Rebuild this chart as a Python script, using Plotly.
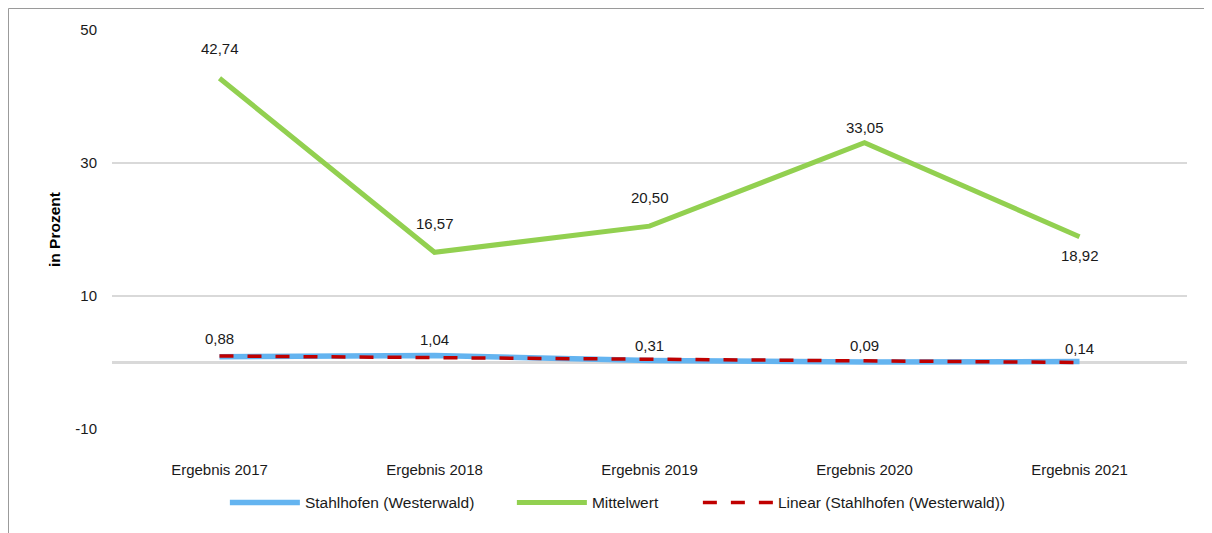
import numpy as np
import plotly.graph_objects as go

# Daten
kategorien = ["Ergebnis 2017", "Ergebnis 2018", "Ergebnis 2019", "Ergebnis 2020", "Ergebnis 2021"]
stahlhofen = [0.88, 1.04, 0.31, 0.09, 0.14]
mittelwert = [42.74, 16.57, 20.50, 33.05, 18.92]
y_ticks = [-10, 10, 30, 50]
y_ticktext = ["-10", "10", "30", "50"]

# lineare Trendlinie (wie Excel)
idx = np.arange(len(stahlhofen))
m, b = np.polyfit(idx, stahlhofen, 1)
trend = m * idx + b

schrift = "Liberation Sans, Arial, sans-serif"
blau = "#64b4f0"
gruen = "#92d050"
rot = "#c00000"

fig = go.Figure()
fig.add_trace(go.Scatter(x=kategorien, y=stahlhofen, mode="lines", name="Stahlhofen (Westerwald)",
                         line=dict(color=blau, width=5.5), legendwidth=202))
fig.add_trace(go.Scatter(x=kategorien, y=mittelwert, mode="lines", name="Mittelwert",
                         line=dict(color=gruen, width=5), legendwidth=101))
fig.add_trace(go.Scatter(x=kategorien, y=trend, mode="lines", name="Linear (Stahlhofen (Westerwald))",
                         line=dict(color=rot, width=3.5, dash="14px,14px")))

def fmt(v):
    return f"{v:.2f}".replace(".", ",")

# Datenbeschriftungen (Versatz in Pixel)
versatz_s = [18, 16, 15, 16, 13]
versatz_m = [30, 29, 29, 15, -19]
for k, v, d in zip(kategorien, stahlhofen, versatz_s):
    fig.add_annotation(x=k, y=v, text=fmt(v), showarrow=False, yshift=d,
                       font=dict(family=schrift, size=15, color="#1a1a1a"))
for k, v, d in zip(kategorien, mittelwert, versatz_m):
    fig.add_annotation(x=k, y=v, text=fmt(v), showarrow=False, yshift=d,
                       font=dict(family=schrift, size=15, color="#1a1a1a"))

fig.add_annotation(x=-0.0535, y=0.5, xref="paper", yref="paper", text="<b>in Prozent</b>",
                   xanchor="center", yanchor="middle",
                   textangle=-90, showarrow=False, font=dict(family=schrift, size=15.5, color="#000000"))

# Rahmen
fig.add_shape(type="rect", xref="paper", yref="paper", x0=-0.0963, x1=1.05, y0=-0.3, y1=1.0539,
              line=dict(color="#999999", width=1), layer="below")

fig.update_layout(
    width=1204, height=525,
    margin=dict(l=104, r=25, t=22, b=104),
    paper_bgcolor="white", plot_bgcolor="white",
    font=dict(family=schrift, size=15, color="#1a1a1a"),
    showlegend=True,
    legend=dict(orientation="h", x=0.105, xanchor="left", y=-0.185, yanchor="middle",
                font=dict(family=schrift, size=15.5), itemwidth=70, bgcolor="rgba(0,0,0,0)"),
    xaxis=dict(range=[-0.5, 4.5], showgrid=False, zeroline=False, showline=False,
               ticks="", ticklabelstandoff=30, tickfont=dict(size=15)),
    yaxis=dict(range=[-10, 50], tickvals=y_ticks, ticktext=y_ticktext, showgrid=True,
               gridcolor="#d9d9d9", gridwidth=1.5,
               zeroline=True, zerolinecolor="#d9d9d9", zerolinewidth=2.5, showline=False,
               ticks="", ticklabelstandoff=14, tickfont=dict(size=15)),
)

fig.write_html("out.html")
